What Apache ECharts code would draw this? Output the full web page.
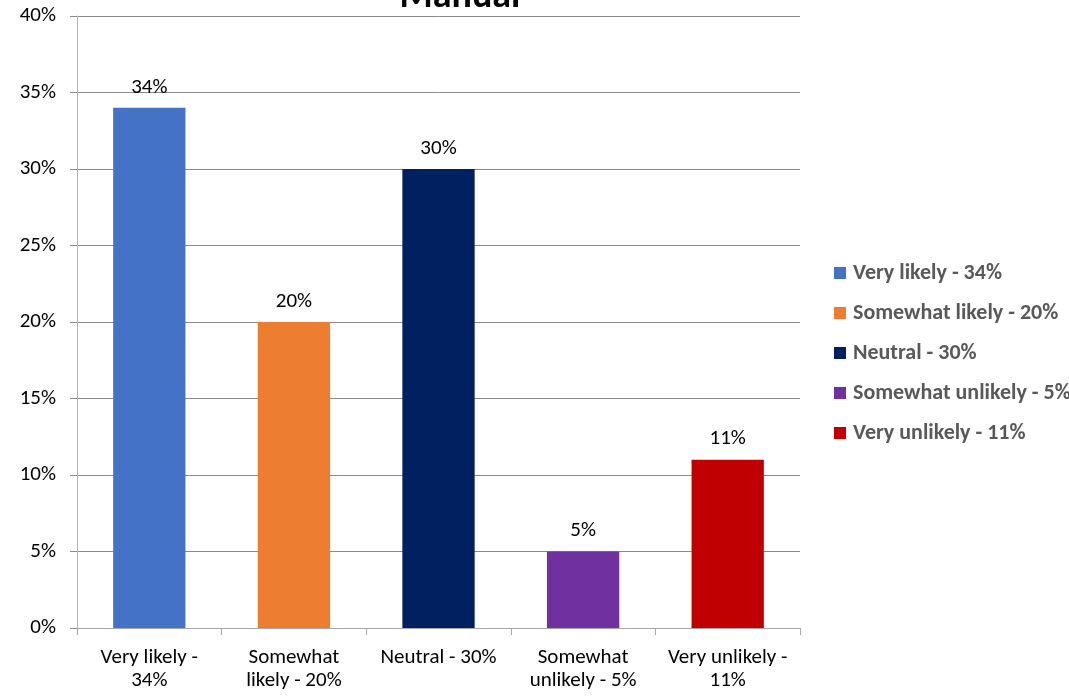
<!DOCTYPE html>
<html>
<head>
<meta charset="utf-8">
<script src="https://cdn.jsdelivr.net/npm/echarts@6/dist/echarts.min.js"></script>
<style>
  html, body { margin: 0; padding: 0; background: #fff; }
  #chart { width: 1069px; height: 697px; }
</style>
</head>
<body>
<div id="chart"></div>
<script>
const categories = ['Very likely - 34%', 'Somewhat likely - 20%', 'Neutral - 30%', 'Somewhat unlikely - 5%', 'Very unlikely - 11%'];
const axisLabels = ['Very likely -\n34%', 'Somewhat\nlikely - 20%', 'Neutral - 30%', 'Somewhat\nunlikely - 5%', 'Very unlikely -\n11%'];
const values = [34, 20, 30, 5, 11];
const colors = ['#4472C4', '#ED7D31', '#002060', '#7030A0', '#C00000'];

const font = 'Carlito, Lato, "Open Sans", sans-serif';

const series = categories.map((name, i) => ({
  name: name,
  type: 'bar',
  stack: 'all',
  barWidth: '50%',
  itemStyle: { color: colors[i] },
  label: {
    show: true,
    position: 'top',
    distance: 10,
    formatter: '{c}%',
    color: '#000',
    fontSize: 21,
    fontFamily: font
  },
  data: values.map((v, j) => (j === i ? v : null))
}));

const chart = echarts.init(document.getElementById('chart'));
chart.setOption({
  animation: false,
  title: {
    text: 'Manual',
    left: 460,
    textAlign: 'center',
    top: -22,
    padding: 0,
    textStyle: { fontSize: 38, fontWeight: 'bold', color: '#000', fontFamily: font }
  },
  legend: {
    orient: 'vertical',
    left: 834,
    top: 262,
    padding: 0,
    itemWidth: 12,
    itemHeight: 12,
    itemGap: 18,
    icon: 'rect',
    textStyle: { fontSize: 22, fontWeight: 'bold', color: '#595959', fontFamily: font, padding: [0, 0, 0, 2] },
    data: categories
  },
  grid: { left: 77, right: 269, top: 16, bottom: 69 },
  xAxis: {
    type: 'category',
    data: categories,
    axisLine: { lineStyle: { color: '#a6a6a6' } },
    axisTick: { show: true, length: 7, lineStyle: { color: '#a6a6a6' } },
    axisLabel: {
      color: '#000',
      fontSize: 21,
      fontFamily: font,
      margin: 18,
      lineHeight: 23,
      interval: 0,
      formatter: (v, i) => axisLabels[i]
    }
  },
  yAxis: {
    type: 'value',
    min: 0,
    max: 40,
    interval: 5,
    axisLine: { show: true, lineStyle: { color: '#b4b4b4' } },
    axisTick: { show: true, length: 7, lineStyle: { color: '#8a8a8a' } },
    splitLine: { lineStyle: { color: '#8a8a8a' } },
    axisLabel: { formatter: '{value}%', color: '#000', fontSize: 21, fontFamily: font, margin: 21 }
  },
  series: series
});
</script>
</body>
</html>
